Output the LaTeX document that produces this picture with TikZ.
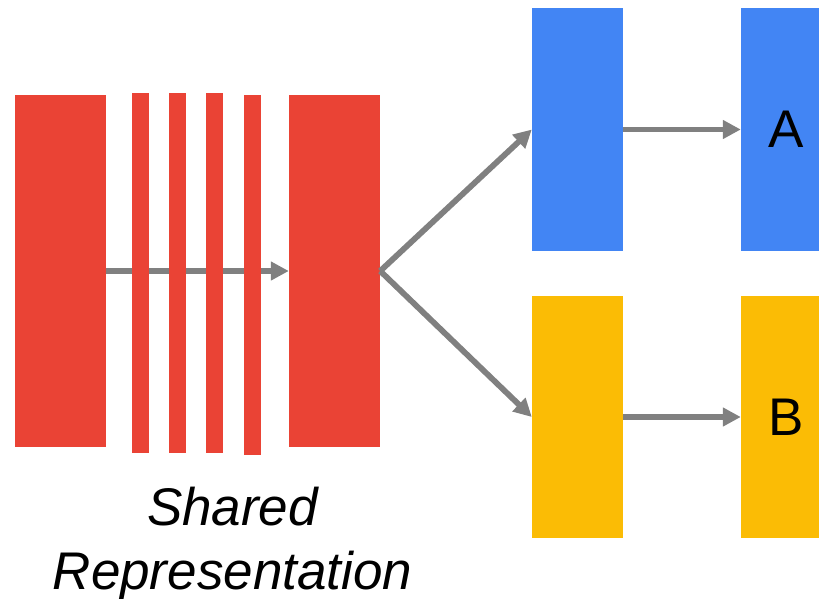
\documentclass[tikz,border=0pt]{standalone}
\usepackage{fontspec}
\setmainfont{Liberation Sans}
\usetikzlibrary{arrows.meta}
\definecolor{gred}{HTML}{EA4335}
\definecolor{gblue}{HTML}{4285F4}
\definecolor{gyellow}{HTML}{FBBC05}
\definecolor{linkgray}{HTML}{808080}

\begin{document}
\begin{tikzpicture}[x=1pt, y=-1pt,
    layer/.style={fill=gred, inner sep=0pt, minimum width=91pt, minimum height=352pt},
    bar/.style={fill=gred, inner sep=0pt, minimum width=17pt, minimum height=360pt},
    head/.style={inner sep=0pt, minimum width=91pt, minimum height=242pt,
                 font=\fontsize{53}{62}\selectfont},
    link/.style={draw=linkgray, line width=5.8pt, -{Triangle[length=18pt,width=18pt]}}]
    \useasboundingbox (0,0) rectangle (819,599);
    \clip (0,0) rectangle (819,599);

    % shared layers
    \node[layer] (Input) at (60.5,271) {};
    \node[layer] (Shared) at (334.5,271) {};
    \draw[link] (Input) -- (Shared);
    \foreach \x/\y/\n in {140.5/273/1, 177.5/273/2, 214.5/273/3, 252/275/4}
        \node[bar] (Bar\n) at (\x,\y) {};

    % task heads
    \node[head, fill=gblue] (TaskA) at (577.5,129.5) {};
    \node[head, fill=gblue] (OutA) at (786.5,129.5) {A};
    \node[head, fill=gyellow] (TaskB) at (577.5,417) {};
    \node[head, fill=gyellow] (OutB) at (786.5,417) {B};

    \draw[link] (Shared.east) -- (TaskA.west);
    \draw[link] (Shared.east) -- (TaskB.west);
    \draw[link] (TaskA) -- (OutA);
    \draw[link] (TaskB) -- (OutB);

    \node[font=\itshape\fontsize{53}{64}\selectfont, align=center] (Caption) at (232.5,543.5) {Shared\\Representation};
\end{tikzpicture}
\end{document}
